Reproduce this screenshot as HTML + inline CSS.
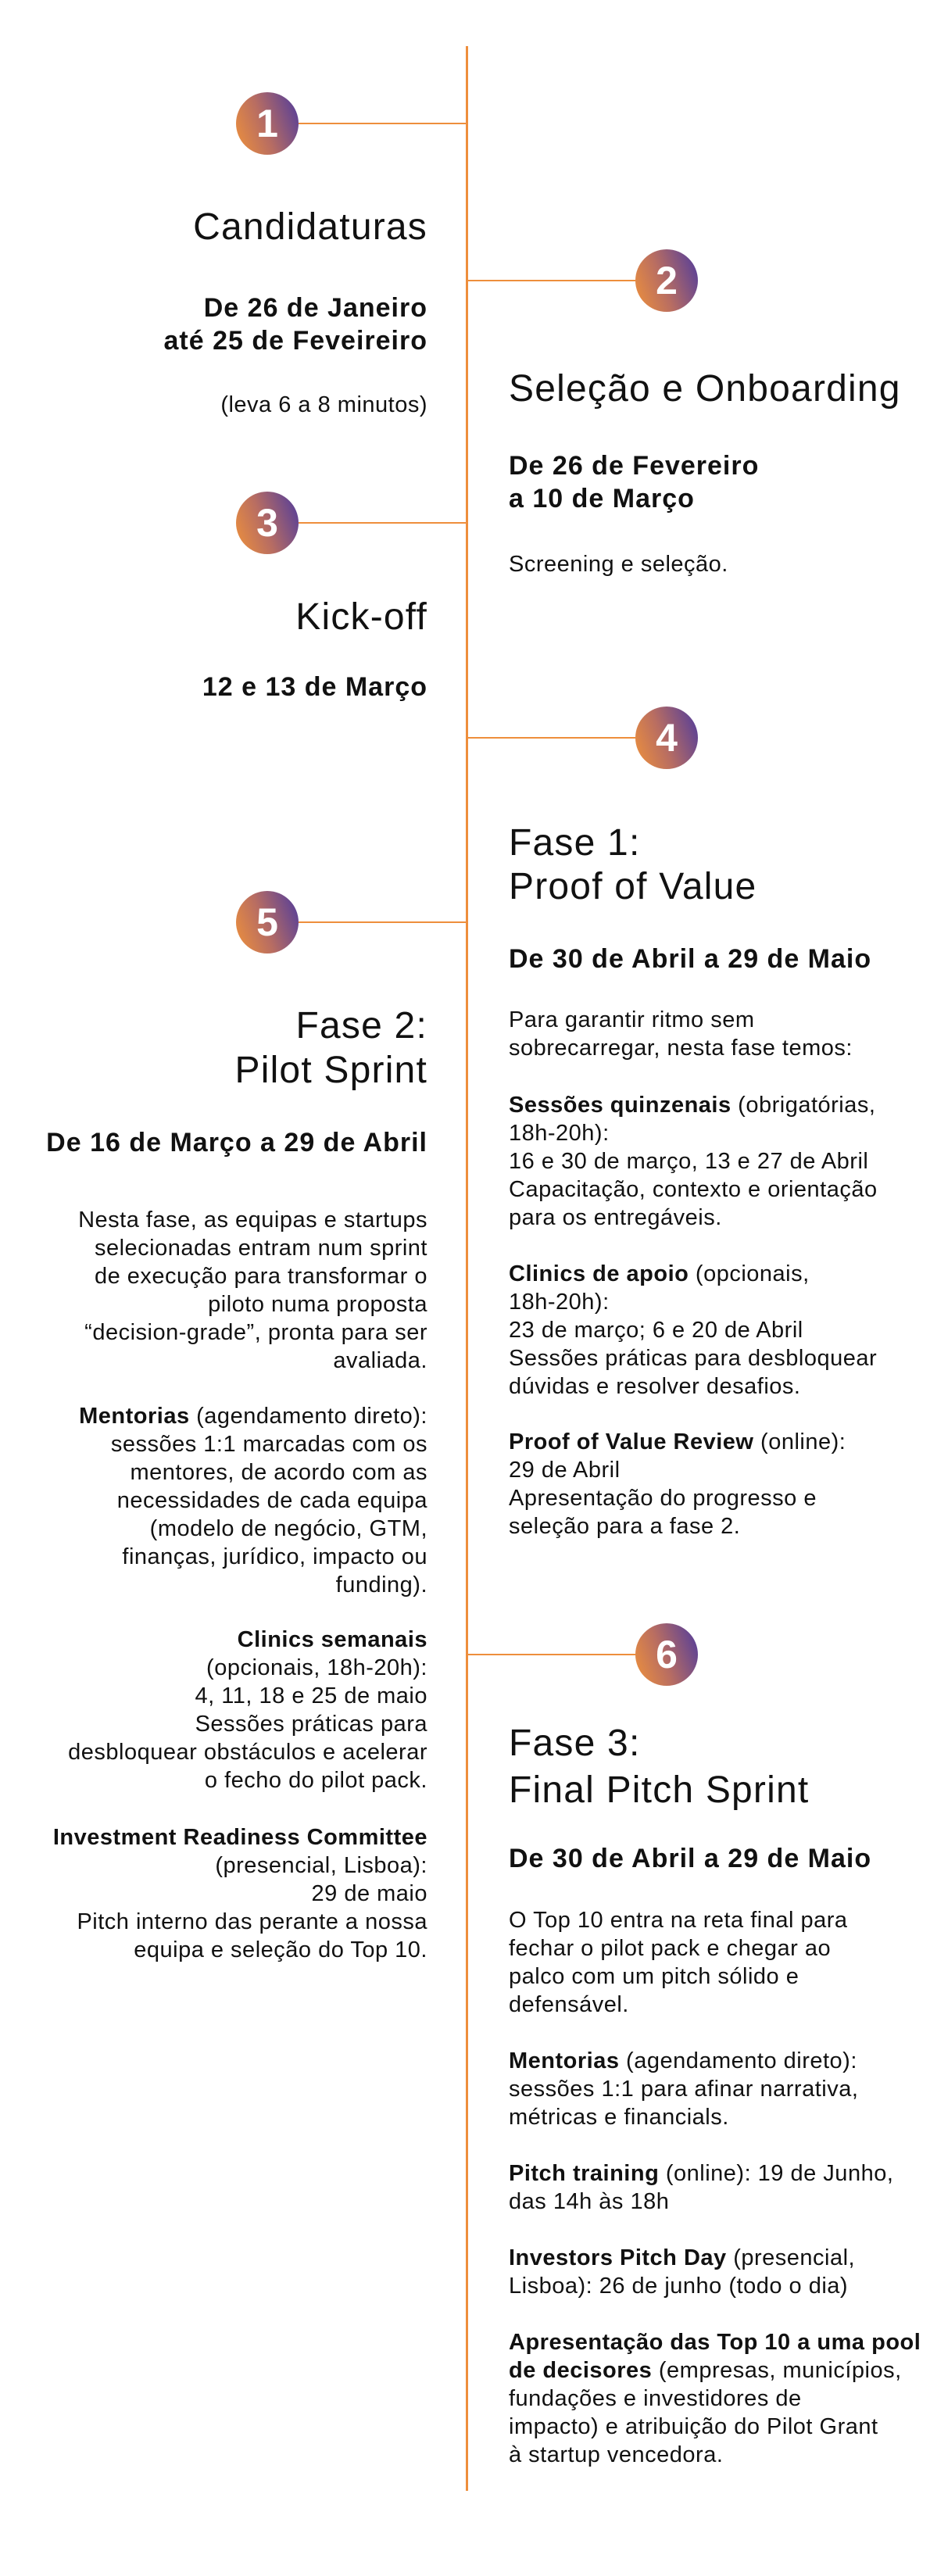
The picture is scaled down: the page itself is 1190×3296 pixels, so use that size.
<!DOCTYPE html>
<html><head><meta charset="utf-8">
<style>
html,body{margin:0;padding:0;background:#fff;}
body{width:1190px;height:3296px;position:relative;overflow:hidden;font-family:"Liberation Sans",sans-serif;color:#111;}
.vl{position:absolute;left:596px;top:59px;width:3px;height:3128px;background:#ee8e3c;}
.hl{position:absolute;height:2px;background:#ee8e3c;}
.c{position:absolute;width:80px;height:80px;border-radius:50%;background:linear-gradient(70deg,#f0923a 0%,#b86d62 45%,#4d3a9e 100%);color:#fff;font-weight:bold;font-size:50px;display:flex;align-items:center;justify-content:center;}
.L{position:absolute;right:644px;text-align:right;white-space:nowrap;}
.R{position:absolute;left:651px;text-align:left;white-space:nowrap;}
.L.t,.L.d,.L.b{margin-right:-1px;}
.t{font-size:48px;line-height:57px;font-weight:normal;letter-spacing:1.2px;}
.d{font-size:34px;line-height:42px;font-weight:bold;letter-spacing:1px;}
.b{font-size:29px;line-height:36px;letter-spacing:0.5px;}
</style></head><body>
<div class="vl"></div>

<div class="hl" style="left:382px;width:215px;top:157px"></div>
<div class="c" style="left:302px;top:118px">1</div>
<div class="hl" style="left:597px;width:216px;top:358px"></div>
<div class="c" style="left:813px;top:319px">2</div>
<div class="hl" style="left:382px;width:215px;top:668px"></div>
<div class="c" style="left:302px;top:629px">3</div>
<div class="hl" style="left:597px;width:216px;top:943px"></div>
<div class="c" style="left:813px;top:904px">4</div>
<div class="hl" style="left:382px;width:215px;top:1179px"></div>
<div class="c" style="left:302px;top:1140px">5</div>
<div class="hl" style="left:597px;width:216px;top:2116px"></div>
<div class="c" style="left:813px;top:2077px">6</div>

<div class="L t" style="top:262px">Candidaturas</div>
<div class="L d" style="top:373px">De 26 de Janeiro<br>até 25 de Feveireiro</div>
<div class="L b" style="top:500px">(leva 6 a 8 minutos)</div>
<div class="L t" style="top:761px">Kick-off</div>
<div class="L d" style="top:858px">12 e 13 de Março</div>
<div class="L t" style="top:1284px">Fase 2:<br>Pilot Sprint</div>
<div class="L d" style="top:1441px">De 16 de Março a 29 de Abril</div>
<div class="L b" style="top:1543px">Nesta fase, as equipas e startups<br>selecionadas entram num sprint<br>de execução para transformar o<br>piloto numa proposta<br>“decision-grade”, pronta para ser<br>avaliada.</div>
<div class="L b" style="top:1794px"><b>Mentorias</b> (agendamento direto):<br>sessões 1:1 marcadas com os<br>mentores, de acordo com as<br>necessidades de cada equipa<br>(modelo de negócio, GTM,<br>finanças, jurídico, impacto ou<br>funding).</div>
<div class="L b" style="top:2080px"><b>Clinics semanais</b><br>(opcionais, 18h-20h):<br>4, 11, 18 e 25 de maio<br>Sessões práticas para<br>desbloquear obstáculos e acelerar<br>o fecho do pilot pack.</div>
<div class="L b" style="top:2333px"><b>Investment Readiness Committee</b><br>(presencial, Lisboa):<br>29 de maio<br>Pitch interno das perante a nossa<br>equipa e seleção do Top 10.</div>

<div class="R t" style="top:469px">Seleção e Onboarding</div>
<div class="R d" style="top:575px">De 26 de Fevereiro<br>a 10 de Março</div>
<div class="R b" style="top:704px">Screening e seleção.</div>
<div class="R t" style="top:1051px;line-height:56px">Fase 1:<br>Proof of Value</div>
<div class="R d" style="top:1206px">De 30 de Abril a 29 de Maio</div>
<div class="R b" style="top:1287px">Para garantir ritmo sem<br>sobrecarregar, nesta fase temos:</div>
<div class="R b" style="top:1396px"><b>Sessões quinzenais</b> (obrigatórias,<br>18h-20h):<br>16 e 30 de março, 13 e 27 de Abril<br>Capacitação, contexto e orientação<br>para os entregáveis.</div>
<div class="R b" style="top:1612px"><b>Clinics de apoio</b> (opcionais,<br>18h-20h):<br>23 de março; 6 e 20 de Abril<br>Sessões práticas para desbloquear<br>dúvidas e resolver desafios.</div>
<div class="R b" style="top:1827px"><b>Proof of Value Review</b> (online):<br>29 de Abril<br>Apresentação do progresso e<br>seleção para a fase 2.</div>
<div class="R t" style="top:2201px;line-height:60px">Fase 3:<br>Final Pitch Sprint</div>
<div class="R d" style="top:2357px">De 30 de Abril a 29 de Maio</div>
<div class="R b" style="top:2439px">O Top 10 entra na reta final para<br>fechar o pilot pack e chegar ao<br>palco com um pitch sólido e<br>defensável.</div>
<div class="R b" style="top:2619px"><b>Mentorias</b> (agendamento direto):<br>sessões 1:1 para afinar narrativa,<br>métricas e financials.</div>
<div class="R b" style="top:2763px"><b>Pitch training</b> (online): 19 de Junho,<br>das 14h às 18h</div>
<div class="R b" style="top:2871px"><b>Investors Pitch Day</b> (presencial,<br>Lisboa): 26 de junho (todo o dia)</div>
<div class="R b" style="top:2979px"><b>Apresentação das Top 10 a uma pool<br>de decisores</b> (empresas, municípios,<br>fundações e investidores de<br>impacto) e atribuição do Pilot Grant<br>à startup vencedora.</div>
</body></html>
